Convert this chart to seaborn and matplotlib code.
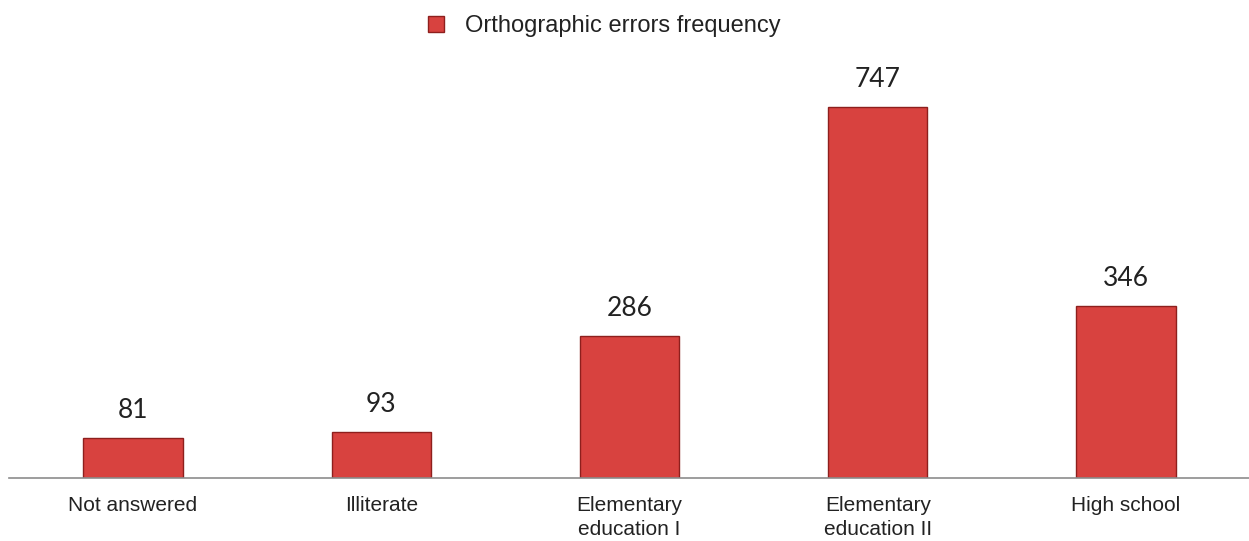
import matplotlib
matplotlib.use("Agg")
import matplotlib.pyplot as plt
import seaborn as sns
import pandas as pd

# chart data
categories = ["Not answered", "Illiterate", "Elementary\neducation I",
              "Elementary\neducation II", "High school"]
frequency = [81, 93, 286, 747, 346]
series_name = "Orthographic errors frequency"

df = pd.DataFrame({"category": categories, "value": frequency})

sns.set_theme(style="white")
plt.rcParams['font.family'] = ['Liberation Sans', 'DejaVu Sans']

fig = plt.figure(figsize=(12.49, 5.41), dpi=100)
ax = fig.add_axes([0.007, 0.1165, 0.994, 0.78])

sns.barplot(data=df, x="category", y="value", color="#d8423f", width=0.4,
            saturation=1, edgecolor="#8e1f1d", linewidth=1.0, ax=ax,
            label=series_name, legend=False)

for i, v in enumerate(frequency):
    ax.text(i, v + 30, str(v), ha="center", va="bottom", fontsize=19,
            family=["Lato", "DejaVu Sans"], color="#222222")

ax.set_ylim(0, 850)
ax.set_xlim(-0.5, 4.5)
ax.set_xlabel("")
ax.set_ylabel("")
ax.set_yticks([])
ax.tick_params(axis="x", length=0, labelsize=15, colors="#222222", pad=13)
for lbl in ax.get_xticklabels():
    lbl.set_linespacing(1.3)
for s in ["top", "left", "right"]:
    ax.spines[s].set_visible(False)
ax.spines["bottom"].set_color("#8c8c8c")
ax.spines["bottom"].set_linewidth(1.2)

handles, labels = ax.get_legend_handles_labels()
fig.legend(handles, labels, loc="center", bbox_to_anchor=(0.484, 0.952),
           frameon=False, fontsize=17, handlelength=0.65, handleheight=0.65,
           handletextpad=0.9, labelcolor="#222222")

fig.savefig("out.png", dpi=100)
